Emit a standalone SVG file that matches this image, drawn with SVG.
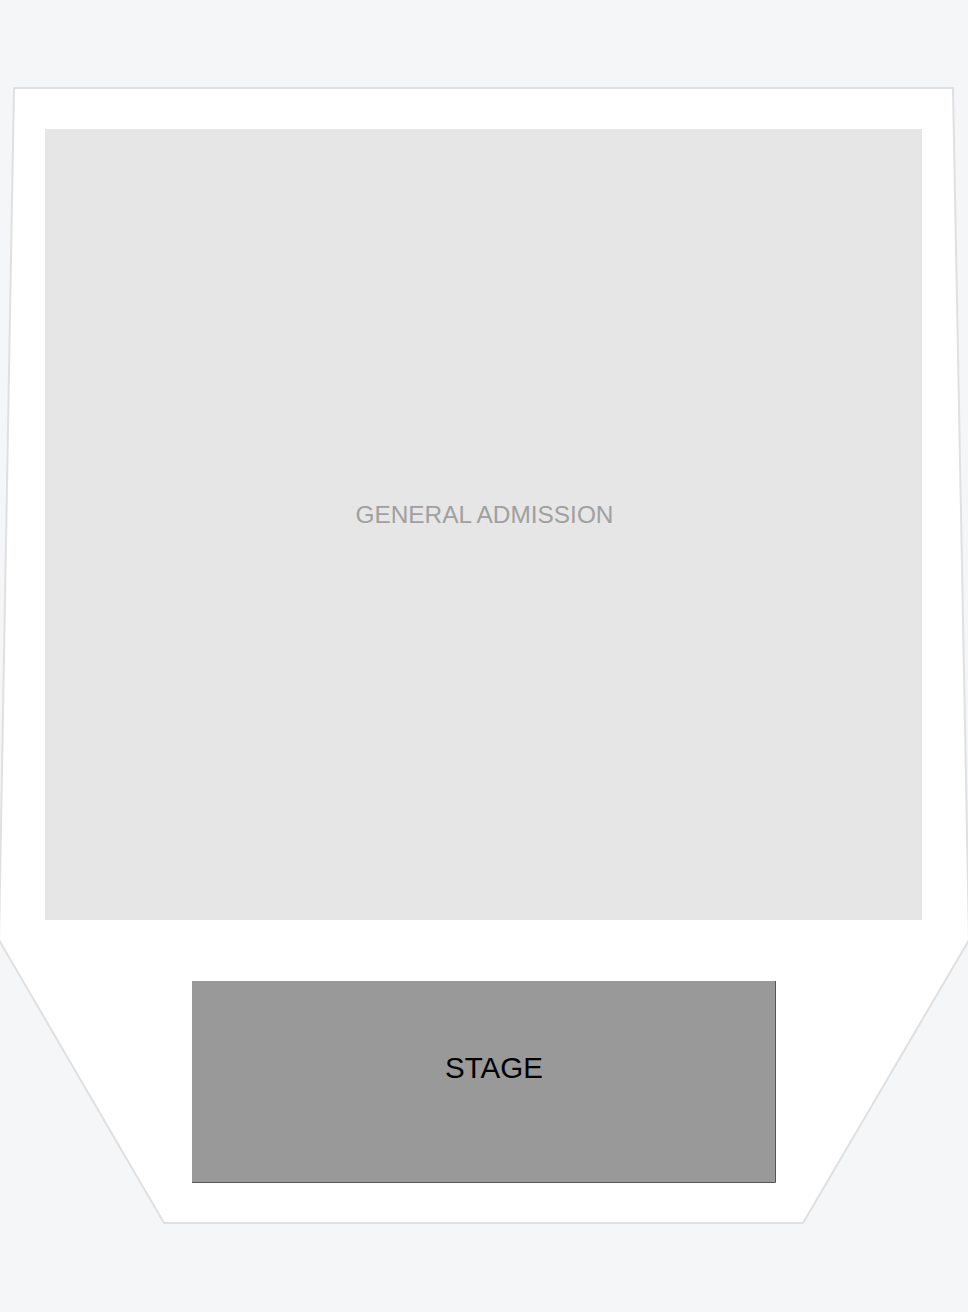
<svg xmlns="http://www.w3.org/2000/svg" width="968" height="1312" viewBox="0 0 968 1312">
<style>
.venue{fill:#ffffff;stroke:#e0e0e0;stroke-width:2}
.ga{fill:#e6e6e6}
.stage{fill:#999999}
.edge{stroke:#555555;stroke-width:1;fill:none}
.galabel{font-family:"Liberation Sans",Arial,sans-serif;font-size:24.4px;fill:#a0a0a0;text-anchor:middle}
.stlabel{font-family:"Liberation Sans",Arial,sans-serif;font-size:29.5px;fill:#000000;text-anchor:middle}
</style>
<rect x="0" y="0" width="968" height="1312" fill="#f5f6f8"/>
<g id="venue">
<polygon class="venue" points="14,88 953,88 969,940 803,1223 164,1223 -1,940"/>
</g>
<g id="general-admission">
<rect class="ga" x="45" y="129" width="877" height="791"/>
<text class="galabel" x="484.5" y="522.5">GENERAL ADMISSION</text>
</g>
<g id="stage">
<rect class="stage" x="192" y="981" width="584" height="201"/>
<path class="edge" d="M775.5,981 V1182.5 H192"/>
<text class="stlabel" x="494" y="1077.5">STAGE</text>
</g>
<g id="connectors"/>
</svg>
